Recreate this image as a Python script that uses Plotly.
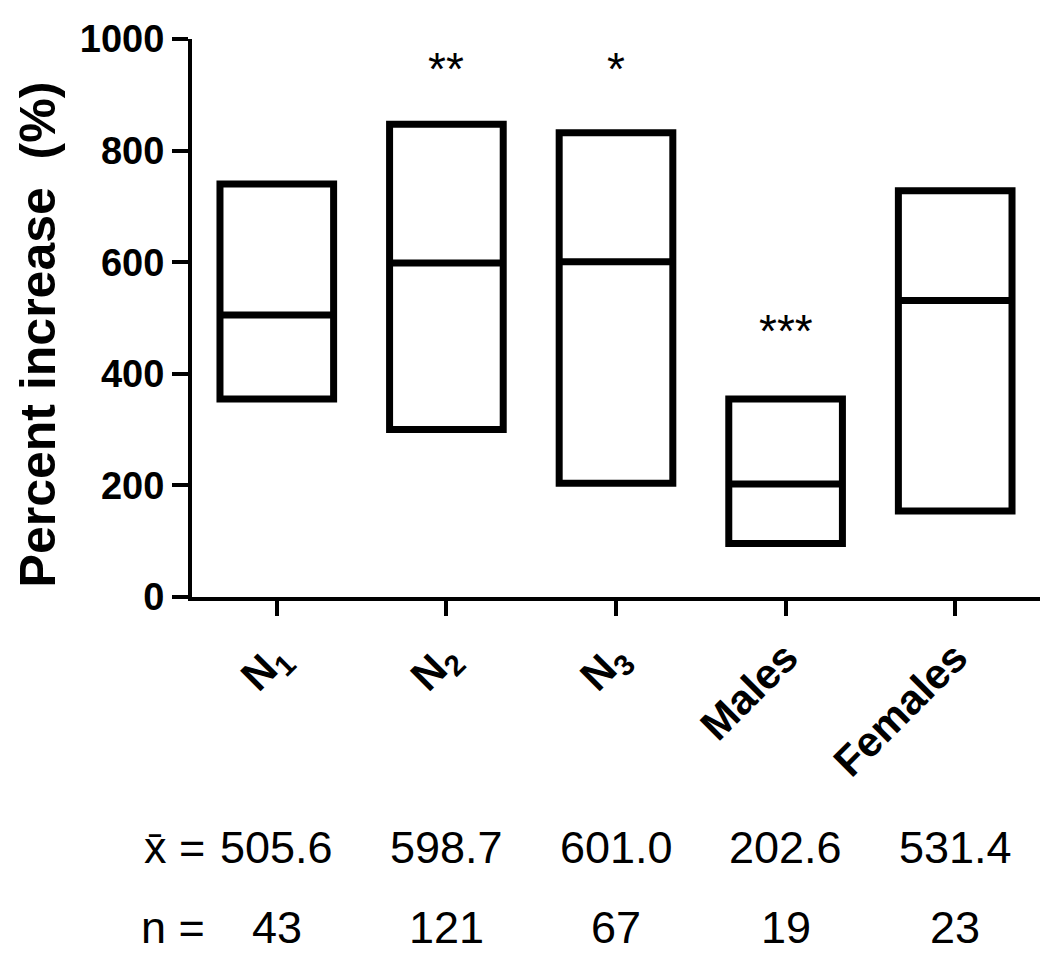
import plotly.graph_objects as go

# Gruppi e valori
groups = ["N<sub>1</sub>", "N<sub>2</sub>", "N<sub>3</sub>", "Males", "Females"]
low = [355, 300, 204, 96, 154]
mean = [505.6, 598.7, 601.0, 202.6, 531.4]
high = [740, 847, 832, 355, 728]
n_obs = [43, 121, 67, 19, 23]
sig = ["", "**", "*", "***", ""]
sig_y = [None, 947, 947, 477, None]

y_ticks = [0, 200, 400, 600, 800, 1000]

FONT = "Liberation Sans, Arial, sans-serif"

pos = list(range(len(groups)))

fig = go.Figure()

# Box: da low a high, linea centrale alla media
fig.add_trace(go.Box(
    x=pos,
    q1=low, median=mean, q3=high,
    lowerfence=low, upperfence=high,
    width=0.67,
    fillcolor="white",
    line=dict(color="black", width=7),
    boxpoints=False,
    showlegend=False,
    hoverinfo="skip",
))

annotations = []

# Asterischi
for i, (s, ys) in enumerate(zip(sig, sig_y)):
    if s:
        annotations.append(dict(
            x=i, y=ys, xref="x", yref="y", text=s, showarrow=False,
            yanchor="middle",
            font=dict(family=FONT, size=46, color="black"),
        ))

# Righe in basso: media e n
row_y_mean = -0.449
row_y_n = -0.5915
row_font = dict(family=FONT, size=45, color="black")
annotations.append(dict(
    x=0.018, y=row_y_mean, xref="paper", yref="paper", text="x\u0304 =",
    xanchor="right", yanchor="middle", showarrow=False, font=row_font,
))
annotations.append(dict(
    x=0.018, y=row_y_n, xref="paper", yref="paper", text="n =",
    xanchor="right", yanchor="middle", showarrow=False, font=row_font,
))
for i, (m, n) in enumerate(zip(mean, n_obs)):
    annotations.append(dict(
        x=i, y=row_y_mean, xref="x", yref="paper", text=f"{m:.1f}",
        yanchor="middle", showarrow=False, font=row_font,
    ))
    annotations.append(dict(
        x=i, y=row_y_n, xref="x", yref="paper", text=str(n),
        yanchor="middle", showarrow=False, font=row_font,
    ))

# Titolo asse y
annotations.append(dict(
    x=-0.182, y=0.47, xref="paper", yref="paper",
    xanchor="center", yanchor="middle",
    text="Percent increase\u00a0\u00a0(%)", textangle=-90, showarrow=False,
    font=dict(family=FONT, size=50, color="black", weight="bold"),
))

# la pagina html ha 8px di margine del body: figura ridotta di 8px
fig.update_layout(
    width=1042, height=955,
    margin=dict(l=184, r=10, t=26, b=366),
    paper_bgcolor="white", plot_bgcolor="white",
    annotations=annotations,
    xaxis=dict(
        range=[-0.5, 4.5],
        tickvals=pos, ticktext=groups, tickangle=-45,
        showline=True, linecolor="black", linewidth=4,
        ticks="outside", ticklen=15, tickwidth=4, tickcolor="black",
        showgrid=False, zeroline=False,
        tickfont=dict(family=FONT, size=42, color="black", weight="bold"),
    ),
    yaxis=dict(
        range=[0, 1000], tickvals=y_ticks,
        showline=True, linecolor="black", linewidth=4,
        ticks="outside", ticklen=16, tickwidth=4, tickcolor="black",
        showgrid=False, zeroline=False,
        tickfont=dict(family=FONT, size=38, color="black", weight="bold"),
    ),
)

fig.write_html("out.html")
